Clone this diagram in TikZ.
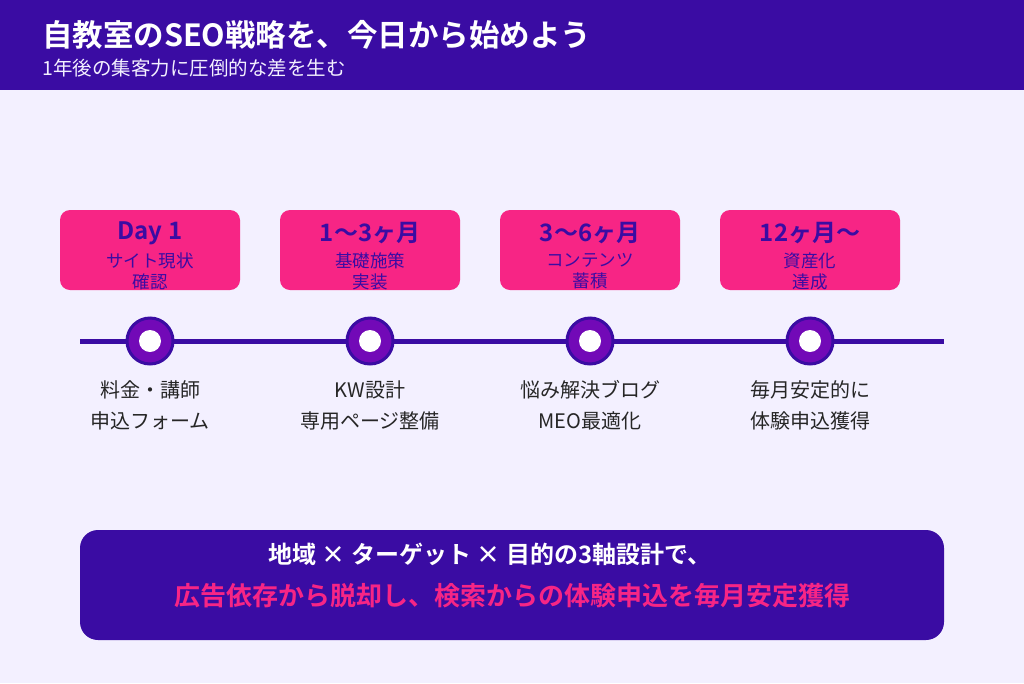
\documentclass[tikz,border=0pt]{standalone}
\usepackage{fontspec}
\setmainfont{Noto Sans CJK JP}[BoldFont={* Bold}]
\usetikzlibrary{positioning}
\definecolor{cdeep}{RGB}{58,12,163}
\definecolor{cpink}{RGB}{247,37,133}
\definecolor{cviolet}{RGB}{114,9,183}
\definecolor{cbg}{RGB}{243,240,255}
\tikzset{
  phase/.style={fill=cpink, rounded corners=10pt, minimum width=180pt, minimum height=80pt, inner sep=0pt},
  dot/.style={circle, draw=cdeep, line width=3pt, fill=cviolet, minimum size=46pt, inner sep=0pt},
  hole/.style={circle, fill=white, minimum size=22pt, inner sep=0pt},
  phasesub/.style={align=center, font=\fontsize{17.5}{21}\selectfont, text=cdeep},
  todo/.style={align=center, font=\fontsize{20}{31}\selectfont, text=black!85},
}
\begin{document}
\begin{tikzpicture}[x=1pt, y=-1pt]
\fill[cbg] (0,0) rectangle (1024,683);
\fill[cdeep] (0,0) rectangle (1024,90);
\node[anchor=west, inner sep=0pt, text=white, font=\fontsize{30.5}{34}\selectfont\bfseries] (title) at (42,35) {自教室のSEO戦略を、今日から始めよう};
\node[anchor=west, inner sep=0pt, text=cbg, font=\fontsize{19.5}{22}\selectfont] (subtitle) at (42,68) {1年後の集客力に圧倒的な差を生む};
\draw[cdeep, line width=5pt] (80,341) coordinate (tl) -- (944,341) coordinate (tr);
\foreach \x/\nm/\head/\sub/\todo in {
  150/a/{Day 1}/{サイト現状\\確認}/{料金・講師\\申込フォーム},
  370/b/{1〜3ヶ月}/{基礎施策\\実装}/{KW設計\\専用ページ整備},
  590/c/{3〜6ヶ月}/{コンテンツ\\蓄積}/{悩み解決ブログ\\MEO最適化},
  810/d/{12ヶ月〜}/{資産化\\達成}/{毎月安定的に\\体験申込獲得}} {
  \node[phase] (box\nm) at (\x,250) {};
  \node[text=cdeep, font=\fontsize{24}{28}\selectfont\bfseries] (head\nm) at (\x,233) {\head};
  \node[phasesub] (sub\nm) at (\x,271) {\sub};
  \node[dot] (dot\nm) at (\x,341) {};
  \node[hole] at (dot\nm) {};
  \node[todo] (todo\nm) at (\x,405) {\todo};
}
\node[fill=cdeep, rounded corners=18pt, minimum width=864pt, minimum height=110pt] (summary) at (512,585) {};
\node[text=white, font=\fontsize{24}{28}\selectfont\bfseries] (line1) at (490,554) {地域 × ターゲット × 目的の3軸設計で、};
\node[text=cpink, font=\fontsize{26}{30}\selectfont\bfseries] (line2) at (512,596) {広告依存から脱却し、検索からの体験申込を毎月安定獲得};
\end{tikzpicture}
\end{document}
